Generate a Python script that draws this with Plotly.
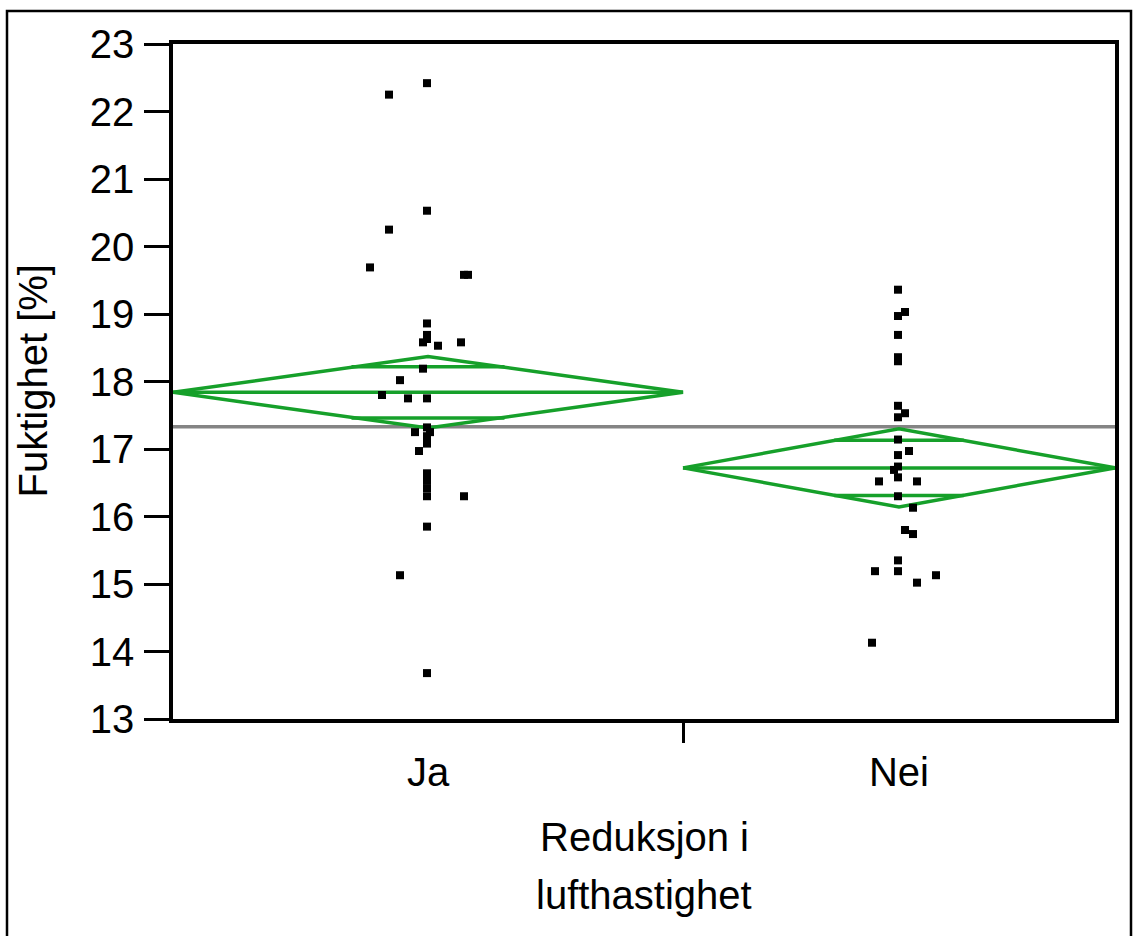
import plotly.graph_objects as go

# ---------------- data ----------------
categories = ["Ja", "Nei"]
cat_widths = [510, 432]          # relative widths of the category bands on the x axis

ja_values = [22.42, 22.25, 20.53, 20.25, 19.69, 19.58, 19.58, 18.86, 18.69, 18.63,
             18.58, 18.53, 18.58, 18.19, 18.02, 17.80, 17.75, 17.75, 17.32, 17.25,
             17.25, 17.19, 17.08, 16.97, 16.64, 16.53, 16.42, 16.30, 16.30, 15.85,
             15.13, 13.68]
ja_jitter = [-1, -39, -1, -39, -58, 36, 40, -1, -1, -1,
             -5, 10, 33, -5, -28, -46, -20, -1, -1, -13,
             2, -1, -1, -9, -1, -1, -1, -1, 36, -1,
             -28, -1]

nei_values = [19.36, 19.03, 18.97, 18.69, 18.36, 18.30, 17.64, 17.53, 17.47, 17.14,
              16.97, 16.91, 16.74, 16.69, 16.58, 16.52, 16.52, 16.30, 16.13, 15.80,
              15.74, 15.35, 15.19, 15.19, 15.13, 15.02, 14.13]
nei_jitter = [-1, 6, -1, -1, -1, -1, -1, 6, -1, -1,
              10, -1, -1, -5, -1, -20, 18, -1, 14, 6,
              14, -1, -24, -1, 37, 18, -27]

group_means = [17.84, 16.72]
group_ci = [0.53, 0.58]          # half-width of 95% CI (diamond height)
group_overlap = [0.38, 0.41]     # overlap-mark offsets from the mean
grand_mean = 17.33

y_ticks = list(range(13, 24))
y_title = "Fuktighet [%]"
x_title_lines = ["Reduksjon i", "lufthastighet"]

# ---------------- styling ----------------
FONT = "Liberation Sans, Arial, sans-serif"
FS = 40
GREEN = "#16a02a"
GRAY = "#848484"

bounds = []
start = 0
for w in cat_widths:
    bounds.append((start, start + w))
    start += w
total = start
centers = [(a + b) / 2 for a, b in bounds]

fig = go.Figure()

# grand mean line
fig.add_trace(go.Scatter(x=[0, total], y=[grand_mean, grand_mean], mode="lines",
                         line=dict(color=GRAY, width=3.5), hoverinfo="skip", showlegend=False))

# means diamonds
for (x0, x1), xc, m, ci, ov in zip(bounds, centers, group_means, group_ci, group_overlap):
    hw = (x1 - x0) / 2
    fig.add_trace(go.Scatter(x=[x0, xc, x1, xc, x0], y=[m, m + ci, m, m - ci, m],
                             mode="lines", line=dict(color=GREEN, width=3.5),
                             hoverinfo="skip", showlegend=False))
    fig.add_trace(go.Scatter(x=[x0, x1], y=[m, m], mode="lines",
                             line=dict(color=GREEN, width=3.5), hoverinfo="skip", showlegend=False))
    for s in (1, -1):
        fig.add_trace(go.Scatter(x=[xc - 0.3 * hw, xc + 0.3 * hw], y=[m + s * ov, m + s * ov],
                                 mode="lines", line=dict(color=GREEN, width=3.5),
                                 hoverinfo="skip", showlegend=False))

# points
for xc, vals, jit in zip(centers, [ja_values, nei_values], [ja_jitter, nei_jitter]):
    fig.add_trace(go.Scatter(x=[xc + j for j in jit], y=vals, mode="markers",
                             marker=dict(symbol="square", size=8, color="black",
                                         line=dict(width=0)),
                             showlegend=False))

# dummy trace on overlay axis so category labels render
fig.add_trace(go.Scatter(x=centers, y=[None, None], xaxis="x2", mode="markers",
                         showlegend=False, hoverinfo="skip"))

L, R, T, B = 173, 18, 44, 217
W, H = 1133, 936
pw, ph = W - L - R, H - T - B

fig.update_layout(
    width=W, height=H,
    margin=dict(l=L, r=R, t=T, b=B, pad=0),
    paper_bgcolor="white", plot_bgcolor="white",
    font=dict(family=FONT, size=FS, color="black"),
    xaxis=dict(range=[0, total], tickvals=[bounds[0][1]], ticktext=[""],
               ticks="outside", ticklen=20, tickwidth=3, tickcolor="black",
               showticklabels=False, showgrid=False, zeroline=False,
               showline=True, linecolor="black", linewidth=3.5, mirror=True),
    xaxis2=dict(overlaying="x", anchor="y", side="bottom", range=[0, total],
                tickvals=centers, ticktext=categories, ticks="",
                ticklabelstandoff=26,
                showgrid=False, zeroline=False, showline=False,
                tickfont=dict(family=FONT, size=FS, color="black")),
    yaxis=dict(range=[13, 23], tickvals=y_ticks, ticks="outside", ticklen=25,
               tickwidth=3, tickcolor="black", ticklabelstandoff=2,
               showgrid=False, zeroline=False,
               showline=True, linecolor="black", linewidth=3.5, mirror=True,
               tickfont=dict(family=FONT, size=FS, color="black")),
)

# y title
fig.add_annotation(text=y_title, textangle=-90, xref="paper", yref="paper",
                   x=(32 - L) / pw, y=0.5, xanchor="center", yanchor="middle",
                   showarrow=False, font=dict(family=FONT, size=FS, color="black"))
# x title lines
for txt, ypx in zip(x_title_lines, [837, 895]):
    fig.add_annotation(text=txt, xref="paper", yref="paper", x=0.5,
                       y=(H - B - ypx) / ph, xanchor="center", yanchor="middle",
                       showarrow=False, font=dict(family=FONT, size=FS, color="black"))

# outer frame
fig.add_shape(type="rect", xref="paper", yref="paper",
              x0=(7 - L) / pw, x1=(1131 - L) / pw,
              y0=(H - B - 960) / ph, y1=(H - B - 11) / ph,
              line=dict(color="black", width=2.5), fillcolor="rgba(0,0,0,0)", layer="below")

fig.write_html("out.html")
